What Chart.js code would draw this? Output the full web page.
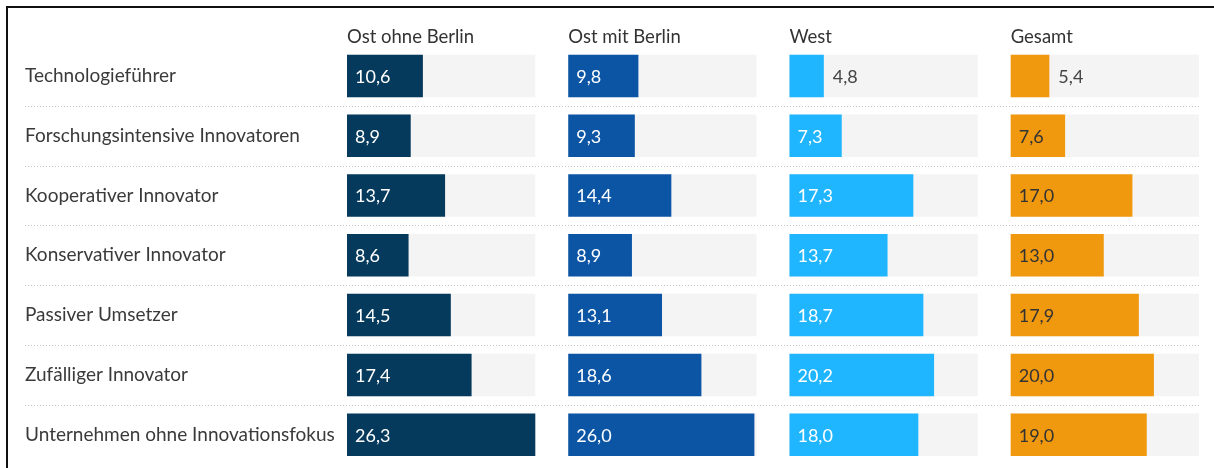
<!DOCTYPE html>
<html>
<head>
<meta charset="utf-8">
<script src="https://cdn.jsdelivr.net/npm/chart.js@4"></script>
<style>
  html,body{margin:0;padding:0;background:#fff;}
  #wrap{position:relative;width:1214px;height:468px;overflow:hidden;}
  #frame{position:absolute;left:6px;top:6px;right:-10px;bottom:-10px;border-top:2px solid #111;border-left:2px solid #111;pointer-events:none;}
  canvas{position:absolute;left:0;top:0;}
</style>
</head>
<body>
<div id="wrap">
  <canvas id="chart" width="1214" height="476"></canvas>
  <div id="frame"></div>
</div>
<script>
const categories = ['Technologieführer','Forschungsintensive Innovatoren','Kooperativer Innovator','Konservativer Innovator','Passiver Umsetzer','Zufälliger Innovator','Unternehmen ohne Innovationsfokus'];
const panels = ['Ost ohne Berlin','Ost mit Berlin','West','Gesamt'];
const ostOhneBerlin = [10.6, 8.9, 13.7, 8.6, 14.5, 17.4, 26.3];
const ostMitBerlin  = [9.8, 9.3, 14.4, 8.9, 13.1, 18.6, 26.0];
const west          = [4.8, 7.3, 17.3, 13.7, 18.7, 20.2, 18.0];
const gesamt        = [5.4, 7.6, 17.0, 13.0, 17.9, 20.0, 19.0];

const seriesList = [ostOhneBerlin, ostMitBerlin, west, gesamt];
const colors = ['#063a5c','#0c55a5','#20b6ff','#f0980e'];
const labelColors = ['#ffffff','#ffffff','#ffffff','#333333'];
const trackMax = 26.3;   // length of the grey track in data units
const step = 30.9;       // distance between panel starts in data units
const FONT = 'Lato, "Noto Sans", sans-serif';

const fmt = v => v.toFixed(1).replace('.', ',');

// value bars first (drawn on top), tracks afterwards
const datasets = [];
seriesList.forEach((s,i)=>{
  datasets.push({
    label: panels[i],
    data: s.map(v => [i*step, i*step + v]),
    backgroundColor: colors[i],
    grouped: false,
    order: 0,
    categoryPercentage: 1,
    barPercentage: 0.71,
    panel: i, raw: s
  });
});
seriesList.forEach((s,i)=>{
  datasets.push({
    label: 'track'+i,
    data: s.map(() => [i*step, i*step + trackMax]),
    backgroundColor: '#f4f4f4',
    grouped: false,
    order: 1,
    categoryPercentage: 1,
    barPercentage: 0.71,
    isTrack: true
  });
});

const decor = {
  id: 'decor',
  beforeDatasetsDraw(chart){
    const {ctx, chartArea, scales:{x,y}} = chart;
    ctx.save();
    ctx.strokeStyle = '#c8c8c8';
    ctx.lineWidth = 1;
    ctx.setLineDash([1,2]);
    for(let i=0;i<categories.length-1;i++){
      const yy = Math.round((y.getPixelForValue(i)+y.getPixelForValue(i+1))/2) + 0.5;
      ctx.beginPath(); ctx.moveTo(25, yy); ctx.lineTo(chartArea.right, yy); ctx.stroke();
    }
    ctx.restore();
    ctx.save();
    ctx.font = '18.5px ' + FONT;
    ctx.fillStyle = '#333';
    ctx.textBaseline = 'alphabetic';
    panels.forEach((p,i)=>{
      ctx.fillText(p, x.getPixelForValue(i*step), 43);
    });
    ctx.restore();
  },
  afterDatasetsDraw(chart){
    const {ctx} = chart;
    ctx.save();
    ctx.font = '18px ' + FONT;
    ctx.textBaseline = 'middle';
    chart.data.datasets.forEach((ds,di)=>{
      if(ds.isTrack) return;
      const meta = chart.getDatasetMeta(di);
      meta.data.forEach((bar,j)=>{
        const txt = fmt(ds.raw[j]);
        const w = ctx.measureText(txt).width;
        const start = Math.min(bar.base, bar.x), end = Math.max(bar.base, bar.x);
        if(end - start >= w + 16){
          ctx.fillStyle = labelColors[ds.panel];
          ctx.fillText(txt, start + 8, bar.y + 1);
        } else {
          ctx.fillStyle = '#444';
          ctx.fillText(txt, end + 9, bar.y + 1);
        }
      });
    });
    ctx.restore();
  }
};

new Chart(document.getElementById('chart'), {
  type: 'bar',
  data: { labels: categories, datasets },
  options: {
    indexAxis: 'y',
    responsive: false,
    animation: false,
    layout: { autoPadding: false, padding: { left: 25, right: 15, top: 46, bottom: 3 } },
    plugins: { legend: { display: false }, tooltip: { enabled: false } },
    scales: {
      x: { display: false, min: 0, max: 3*step + trackMax },
      y: {
        offset: true,
        grid: { display: false },
        border: { display: false },
        ticks: { color: '#3a3a3a', font: { family: FONT, size: 19 }, crossAlign: 'far', padding: 0 },
        afterFit(scale){ scale.width = 322; }
      }
    }
  },
  plugins: [decor]
});
</script>
</body>
</html>
